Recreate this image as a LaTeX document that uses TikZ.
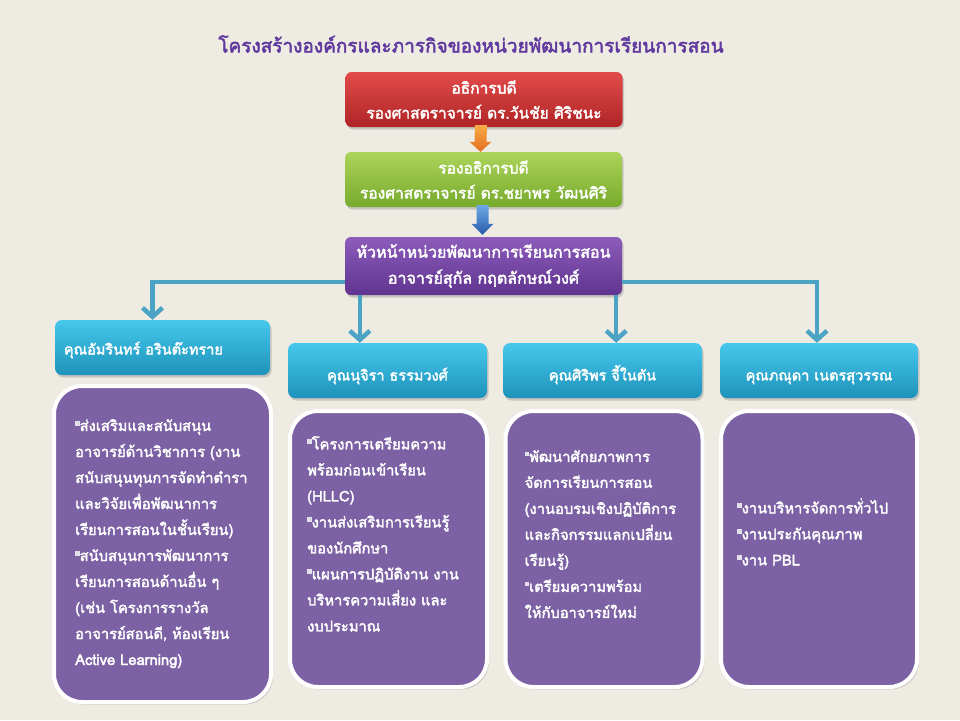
\documentclass[tikz,border=0pt]{standalone}
\usepackage{fontspec}
\newfontfamily\thai[Script=Thai,AutoFakeBold=2.5]{Loma}
\usetikzlibrary{arrows.meta,calc,shadows}
\definecolor{bgc}{RGB}{238,235,226}
\definecolor{titlec}{RGB}{96,58,158}
\definecolor{redtop}{RGB}{226,76,74}
\definecolor{redbot}{RGB}{176,36,38}
\definecolor{grntop}{RGB}{172,212,90}
\definecolor{grnbot}{RGB}{118,170,44}
\definecolor{purtop}{RGB}{140,92,186}
\definecolor{purbot}{RGB}{96,52,144}
\definecolor{cyntop}{RGB}{70,200,236}
\definecolor{cynbot}{RGB}{30,146,186}
\definecolor{boxc}{RGB}{124,98,164}
\definecolor{connc}{RGB}{76,164,196}
\definecolor{bulc}{RGB}{226,224,234}
\definecolor{orgtop}{RGB}{250,170,70}
\definecolor{orgbot}{RGB}{226,110,30}
\definecolor{blutop}{RGB}{110,170,230}
\definecolor{blubot}{RGB}{40,90,170}
\newcommand\sqbul{\raisebox{5.5pt}{\textcolor{bulc}{\rule{4.5pt}{4.5pt}}}}
\newcommand\lowtext[2]{\smash{\raisebox{-#1}{#2}}}
\tikzset{
  topbox/.style={rectangle, rounded corners=6pt, minimum width=277pt, minimum height=55pt,
    text=white, align=center, font=\thai\bfseries\fontsize{15.5}{25}\selectfont,
    drop shadow={shadow xshift=1.5pt, shadow yshift=-2.5pt, opacity=.35}},
  headbox/.style={rectangle, rounded corners=7pt, minimum height=55pt,
    top color=cyntop, bottom color=cynbot, text=white,
    font=\thai\bfseries\fontsize{14.5}{20}\selectfont,
    drop shadow={shadow xshift=1.5pt, shadow yshift=-2.5pt, opacity=.35}},
  contbox/.style={rectangle, rounded corners=28pt, fill=boxc, draw=white, line width=4pt,
    drop shadow={shadow xshift=2pt, shadow yshift=-2.5pt, opacity=.3}},
  conttext/.style={inner sep=0pt, anchor=north west, align=left, text=white,
    font=\thai\bfseries\fontsize{14.7}{26}\selectfont},
  conn/.style={draw=connc, line width=4.5pt, -{Straight Barb[length=9pt,width=20pt]}},
}
\begin{document}
\begin{tikzpicture}[x=1pt,y=-1pt]
\useasboundingbox (0,0) rectangle (960,720);
\fill[bgc] (0,0) rectangle (960,720);

\node[text=titlec, font=\thai\bfseries\fontsize{19}{24}\selectfont] (title) at (471,44)
  {โครงสร้างองค์กรและภารกิจของหน่วยพัฒนาการเรียนการสอน};

\node[topbox, top color=redtop, bottom color=redbot] (red) at (484,99.5)
  {อธิการบดี\\รองศาสตราจารย์ ดร.วันชัย ศิริชนะ};
\node[topbox, top color=grntop, bottom color=grnbot] (green) at (483.5,179.5)
  {รองอธิการบดี\\รองศาสตราจารย์ ดร.ชยาพร วัฒนศิริ};
\node[topbox, top color=purtop, bottom color=purbot, minimum height=58pt,
  font=\thai\bfseries\fontsize{16}{26}\selectfont] (ph) at (483.5,266)
  {หัวหน้าหน่วยพัฒนาการเรียนการสอน\\อาจารย์สุกัล กฤตลักษณ์วงศ์};

\coordinate (oa) at ($(red.south)+(-3,-2)$);
\coordinate (ob) at ($(green.north)+(-3,0)$);
\shade[top color=orgtop, bottom color=orgbot]
  ($(oa)+(-6,0)$) -- ($(oa)+(6,0)$) -- ($(ob)+(6,-10)$) -- ($(ob)+(11,-10)$) -- (ob)
  -- ($(ob)+(-11,-10)$) -- ($(ob)+(-6,-10)$) -- cycle;
\coordinate (ba) at ($(green.south)+(-1,-2)$);
\coordinate (bb) at ($(ph.north)+(-1,-2)$);
\shade[top color=blutop, bottom color=blubot]
  ($(ba)+(-6,0)$) -- ($(ba)+(6,0)$) -- ($(bb)+(6,-11)$) -- ($(bb)+(11,-11)$) -- (bb)
  -- ($(bb)+(-11,-11)$) -- ($(bb)+(-6,-11)$) -- cycle;

% header boxes
\node[headbox, minimum width=215pt, text width=197pt, align=left] (h1) at (162.5,347.5)
  {\lowtext{7pt}{คุณอัมรินทร์ อรินต๊ะทราย}};
\node[headbox, minimum width=199pt, align=center] (h2) at (387.5,370.5)
  {\lowtext{10pt}{คุณนุจิรา ธรรมวงศ์}};
\node[headbox, minimum width=199pt, align=center] (h3) at (602.5,370.5)
  {\lowtext{10pt}{คุณศิริพร จี้ในตัน}};
\node[headbox, minimum width=198pt, align=center] (h4) at (819,370.5)
  {\lowtext{10pt}{คุณภณุดา เนตรสุวรรณ}};

% connectors
\coordinate (jl) at ($(ph.west)+(0,16)$);
\coordinate (jr) at ($(ph.east)+(0,16)$);
\coordinate (d2) at ($(ph.south west)+(15,0)$);
\coordinate (d3) at ($(ph.south east)+(-6,0)$);
\draw[conn] (jl) -| ($(h1.north)+(-10,0)$);
\draw[conn] (jr) -| ($(h4.north)+(-2,0)$);
\draw[conn] (d2) -- (d2 |- h2.north);
\draw[conn] (d3) -- (d3 |- h3.north);

% content boxes
\node[contbox, minimum width=217pt, minimum height=316pt] (c1) at (162.5,544) {};
\node[contbox, minimum width=197pt, minimum height=276pt] (c2) at (388.5,549) {};
\node[contbox, minimum width=197pt, minimum height=276pt] (c3) at (604,549) {};
\node[contbox, minimum width=196pt, minimum height=276pt] (c4) at (819,549) {};

\node[conttext] (t1) at ($(c1.north west)+(23,35)$)
  {\sqbul ส่งเสริมและสนับสนุน\\อาจารย์ด้านวิชาการ (งาน\\สนับสนุนทุนการจัดทำตำรา\\และวิจัยเพื่อพัฒนาการ\\เรียนการสอนในชั้นเรียน)\\\sqbul สนับสนุนการพัฒนาการ\\เรียนการสอนด้านอื่น ๆ\\(เช่น โครงการรางวัล\\อาจารย์สอนดี, ห้องเรียน\\Active Learning)};
\node[conttext] (t2) at ($(c2.north west)+(19,27)$)
  {\sqbul โครงการเตรียมความ\\พร้อมก่อนเข้าเรียน\\(HLLC)\\\sqbul งานส่งเสริมการเรียนรู้\\ของนักศึกษา\\\sqbul แผนการปฏิบัติงาน งาน\\บริหารความเสี่ยง และ\\งบประมาณ};
\node[conttext] (t3) at ($(c3.north west)+(21,41)$)
  {\sqbul พัฒนาศักยภาพการ\\จัดการเรียนการสอน\\(งานอบรมเชิงปฏิบัติการ\\และกิจกรรมแลกเปลี่ยน\\เรียนรู้)\\\sqbul เตรียมความพร้อม\\ให้กับอาจารย์ใหม่};
\node[conttext] (t4) at ($(c4.north west)+(18,89)$)
  {\sqbul งานบริหารจัดการทั่วไป\\\sqbul งานประกันคุณภาพ\\\sqbul งาน PBL};
\end{tikzpicture}
\end{document}
